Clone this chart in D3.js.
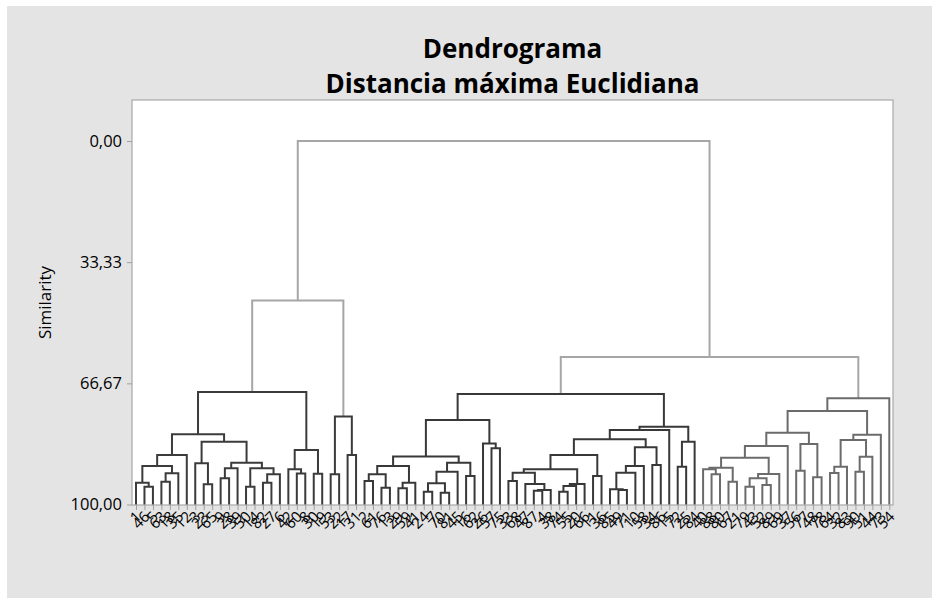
<!DOCTYPE html>
<html><head><meta charset="utf-8">
<script src="https://cdn.jsdelivr.net/npm/d3@7"></script>
<style>
body{margin:0;background:#fff}
text{font-family:"Open Sans",sans-serif}
</style>
</head><body>
<svg id="chart" width="932" height="598"></svg>
<script>
// ---- data ----
const titleLines = ["Dendrograma", "Distancia máxima Euclidiana"];
const yAxisTitle = "Similarity";
const yTicks = [0, 33.33, 66.67, 100];
const yTickLabels = ["0,00", "33,33", "66,67", "100,00"];

// observation labels in dendrogram order (left to right)
const leafLabels = [
  "1","46","5","63","18","35","12","3","23","65",
  "9","28","39","50","14","82","27","6","42","60",
  "8","30","19","53","22","17","31","2","61","76",
  "13","29","59","41","24","7","70","81","45","16",
  "62","26","57","75","33","68","47","87","4","38",
  "74","55","20","66","11","36","85","49","71","10",
  "58","34","86","15","72","25","84","40","88","80",
  "67","21","79","43","52","89","69","37","56","77",
  "48","78","64","32","83","90","51","44","73","54"
];

// merges: [id, left child, right child, similarity]; numbers = leaf positions
const merges = [
  ["a1", 1, 2, 95.10], ["a2", 0, "a1", 94.00], ["a3", 3, 4, 93.73], ["a4", "a3", 5, 91.42],
  ["a5", "a2", "a4", 89.41], ["a6", "a5", 6, 86.38], ["a7", 8, 9, 94.44], ["a8", 7, "a7", 88.67],
  ["a9", 10, 11, 92.79], ["a10", "a9", 12, 90.04], ["a11", 13, 14, 95.10], ["a12", 15, 16, 94.00],
  ["a13", "a12", 17, 91.69], ["a14", "a11", "a13", 90.04], ["a15", "a10", "a14", 88.50],
  ["a16", "a8", "a15", 82.72], ["a17", "a6", "a16", 80.69], ["a18", 19, 20, 91.47],
  ["a19", 18, "a18", 90.32], ["a20", 21, 22, 91.55], ["a21", "a19", "a20", 85.01],
  ["c1", "a17", "a21", 69.05],
  ["b1", 23, 24, 91.69], ["b2", 25, 26, 86.38], ["c2", "b1", "b2", 75.79],
  ["g1", "c1", "c2", 43.88],
  ["d1", 27, 28, 93.54], ["d2", 29, 30, 95.38], ["d3", "d1", "d2", 91.69], ["d4", 31, 32, 95.54],
  ["d5", "d4", 33, 94.00], ["d6", "d3", "d5", 89.41], ["d7", 34, 35, 96.48], ["d8", 36, 37, 96.75],
  ["d9", "d7", "d8", 94.17], ["d10", "d9", 38, 90.98], ["d11", 39, 40, 92.16], ["d12", "d10", "d11", 88.50],
  ["d13", "d6", "d12", 86.80], ["d14", 42, 43, 84.54], ["d15", 41, "d14", 83.22], ["d16", "d13", "d15", 76.75],
  ["e1", 44, 45, 93.54], ["e2", 47, 48, 96.20], ["e3", "e2", 49, 96.01], ["e4", 46, "e3", 94.36],
  ["e5", "e1", "e4", 91.25], ["e6", 50, 51, 96.48], ["e7", "e6", 52, 94.91], ["e8", "e7", 53, 94.36],
  ["e9", "e5", "e8", 90.32], ["e10", 54, 55, 92.16], ["e11", "e9", "e10", 86.38], ["e12", 57, 58, 96.01],
  ["e13", 56, "e12", 95.82], ["e14", "e13", 59, 91.25], ["e15", "e14", 60, 89.41], ["e16", 61, 62, 89.13],
  ["e17", "e15", "e16", 84.26], ["e18", "e11", "e17", 82.06], ["e19", "e18", 63, 79.50],
  ["e20", 64, 65, 89.60], ["e21", "e20", 66, 82.72], ["e22", "e19", "e21", 78.60],
  ["c3", "d16", "e22", 69.60],
  ["f1", 68, 69, 91.69], ["f2", 67, "f1", 90.32], ["f3", 70, 71, 93.73], ["f4", "f2", "f3", 89.88],
  ["f5", 72, 73, 95.10], ["f6", 74, 75, 94.64], ["f7", "f5", "f6", 92.79], ["f8", "f7", 76, 91.61],
  ["f9", "f4", "f8", 87.13], ["f10", "f9", 77, 83.91], ["f11", 78, 79, 90.70], ["f12", 80, 81, 92.52],
  ["f13", "f11", "f12", 83.36], ["f14", "f10", "f13", 80.25], ["f15", 82, 83, 91.33], ["f16", "f15", 84, 89.60],
  ["f17", 85, 86, 90.98], ["f18", "f17", 87, 86.85], ["f19", "f16", "f18", 82.26], ["f20", "f19", 88, 80.80],
  ["f21", "f14", "f20", 74.28], ["c4", "f21", 89, 70.78],
  ["g2", "c3", "c4", 59.42],
  ["root", "g1", "g2", 0]
];

const clusterIds = ["c1", "c2", "c3", "c4"];
const clusterColors = ["#3b3b3b", "#3b3b3b", "#383838", "#6b6b6b"];
const upperColor = "#a6a6a6";

// ---- build tree ----
const nodes = {};
leafLabels.forEach((lab, i) => { nodes[i] = {id: i, label: lab, sim: 100}; });
merges.forEach(([id, l, r, s]) => { nodes[id] = {id, sim: s, children: [nodes[l], nodes[r]]}; });
const root = d3.hierarchy(nodes["root"]);

const W = 932, H = 598;
const plot = {x0: 132, x1: 893, y0: 100, y1: 505};

const leafOrder = root.leaves().map(d => d.data.id);
const x = d3.scalePoint().domain(leafOrder).range([136, 889.3]);
const y = d3.scaleLinear().domain([0, 100]).range([141, 504.5]);

root.eachAfter(d => {
  d.px = d.children ? d3.mean(d.children, c => c.px) : x(d.data.id);
  d.py = y(d.data.sim);
});
root.each(d => {
  const ci = clusterIds.indexOf(d.data.id);
  if (ci >= 0) d.color = clusterColors[ci];
  else d.color = d.parent && d.parent.color !== upperColor ? d.parent.color : upperColor;
});

const svg = d3.select("#chart");
svg.append("rect").attr("x", 7).attr("y", 6).attr("width", W - 7).attr("height", H - 6).attr("fill", "#e4e4e4");
svg.append("rect").attr("x", plot.x0).attr("y", plot.y0)
  .attr("width", plot.x1 - plot.x0).attr("height", plot.y1 - plot.y0)
  .attr("fill", "#fff").attr("stroke", "#a8a8a8").attr("stroke-width", 1.2);

// titles
svg.selectAll("text.title").data(titleLines).join("text")
  .attr("class", "title")
  .attr("x", (plot.x0 + plot.x1) / 2).attr("y", (d, i) => 58 + i * 35)
  .attr("text-anchor", "middle").attr("font-size", 26).attr("font-weight", 700)
  .attr("fill", "#000").text(d => d);

// y axis
const yAxis = svg.append("g").attr("transform", `translate(${plot.x0},0)`)
  .call(d3.axisLeft(y).tickValues(yTicks).tickFormat((d, i) => yTickLabels[i]).tickSize(5).tickPadding(5));
yAxis.select(".domain").remove();
yAxis.selectAll(".tick line").attr("stroke", "#a0a0a0");
yAxis.selectAll(".tick text").attr("font-size", 16.5).attr("fill", "#000").style("font-family", '"Open Sans",sans-serif');

svg.append("text")
  .attr("transform", `translate(51,${(plot.y0 + plot.y1) / 2}) rotate(-90)`)
  .attr("text-anchor", "middle").attr("font-size", 17).attr("fill", "#000").text(yAxisTitle);

// x axis (leaf labels)
const xAxis = svg.append("g").attr("transform", `translate(0,${plot.y1})`)
  .call(d3.axisBottom(x).tickFormat(i => leafLabels[i]).tickSize(5).tickPadding(3));
xAxis.select(".domain").remove();
xAxis.selectAll(".tick line").attr("stroke", "#a0a0a0");
xAxis.selectAll(".tick text")
  .attr("font-size", 15).attr("fill", "#000").style("font-family", '"Open Sans",sans-serif')
  .attr("text-anchor", "end").attr("dy", "0.35em")
  .attr("transform", "translate(2,9) rotate(-45)").attr("y", 0).attr("x", 0);

// links
const links = [];
root.each(d => { if (d.children) links.push(d); });
svg.append("g").selectAll("path").data(links).join("path")
  .attr("d", d => {
    const [a, b] = d.children;
    return `M${a.px},${a.py}V${d.py}H${b.px}V${b.py}`;
  })
  .attr("fill", "none").attr("stroke", d => d.color).attr("stroke-width", 2);
</script>
</body></html>
